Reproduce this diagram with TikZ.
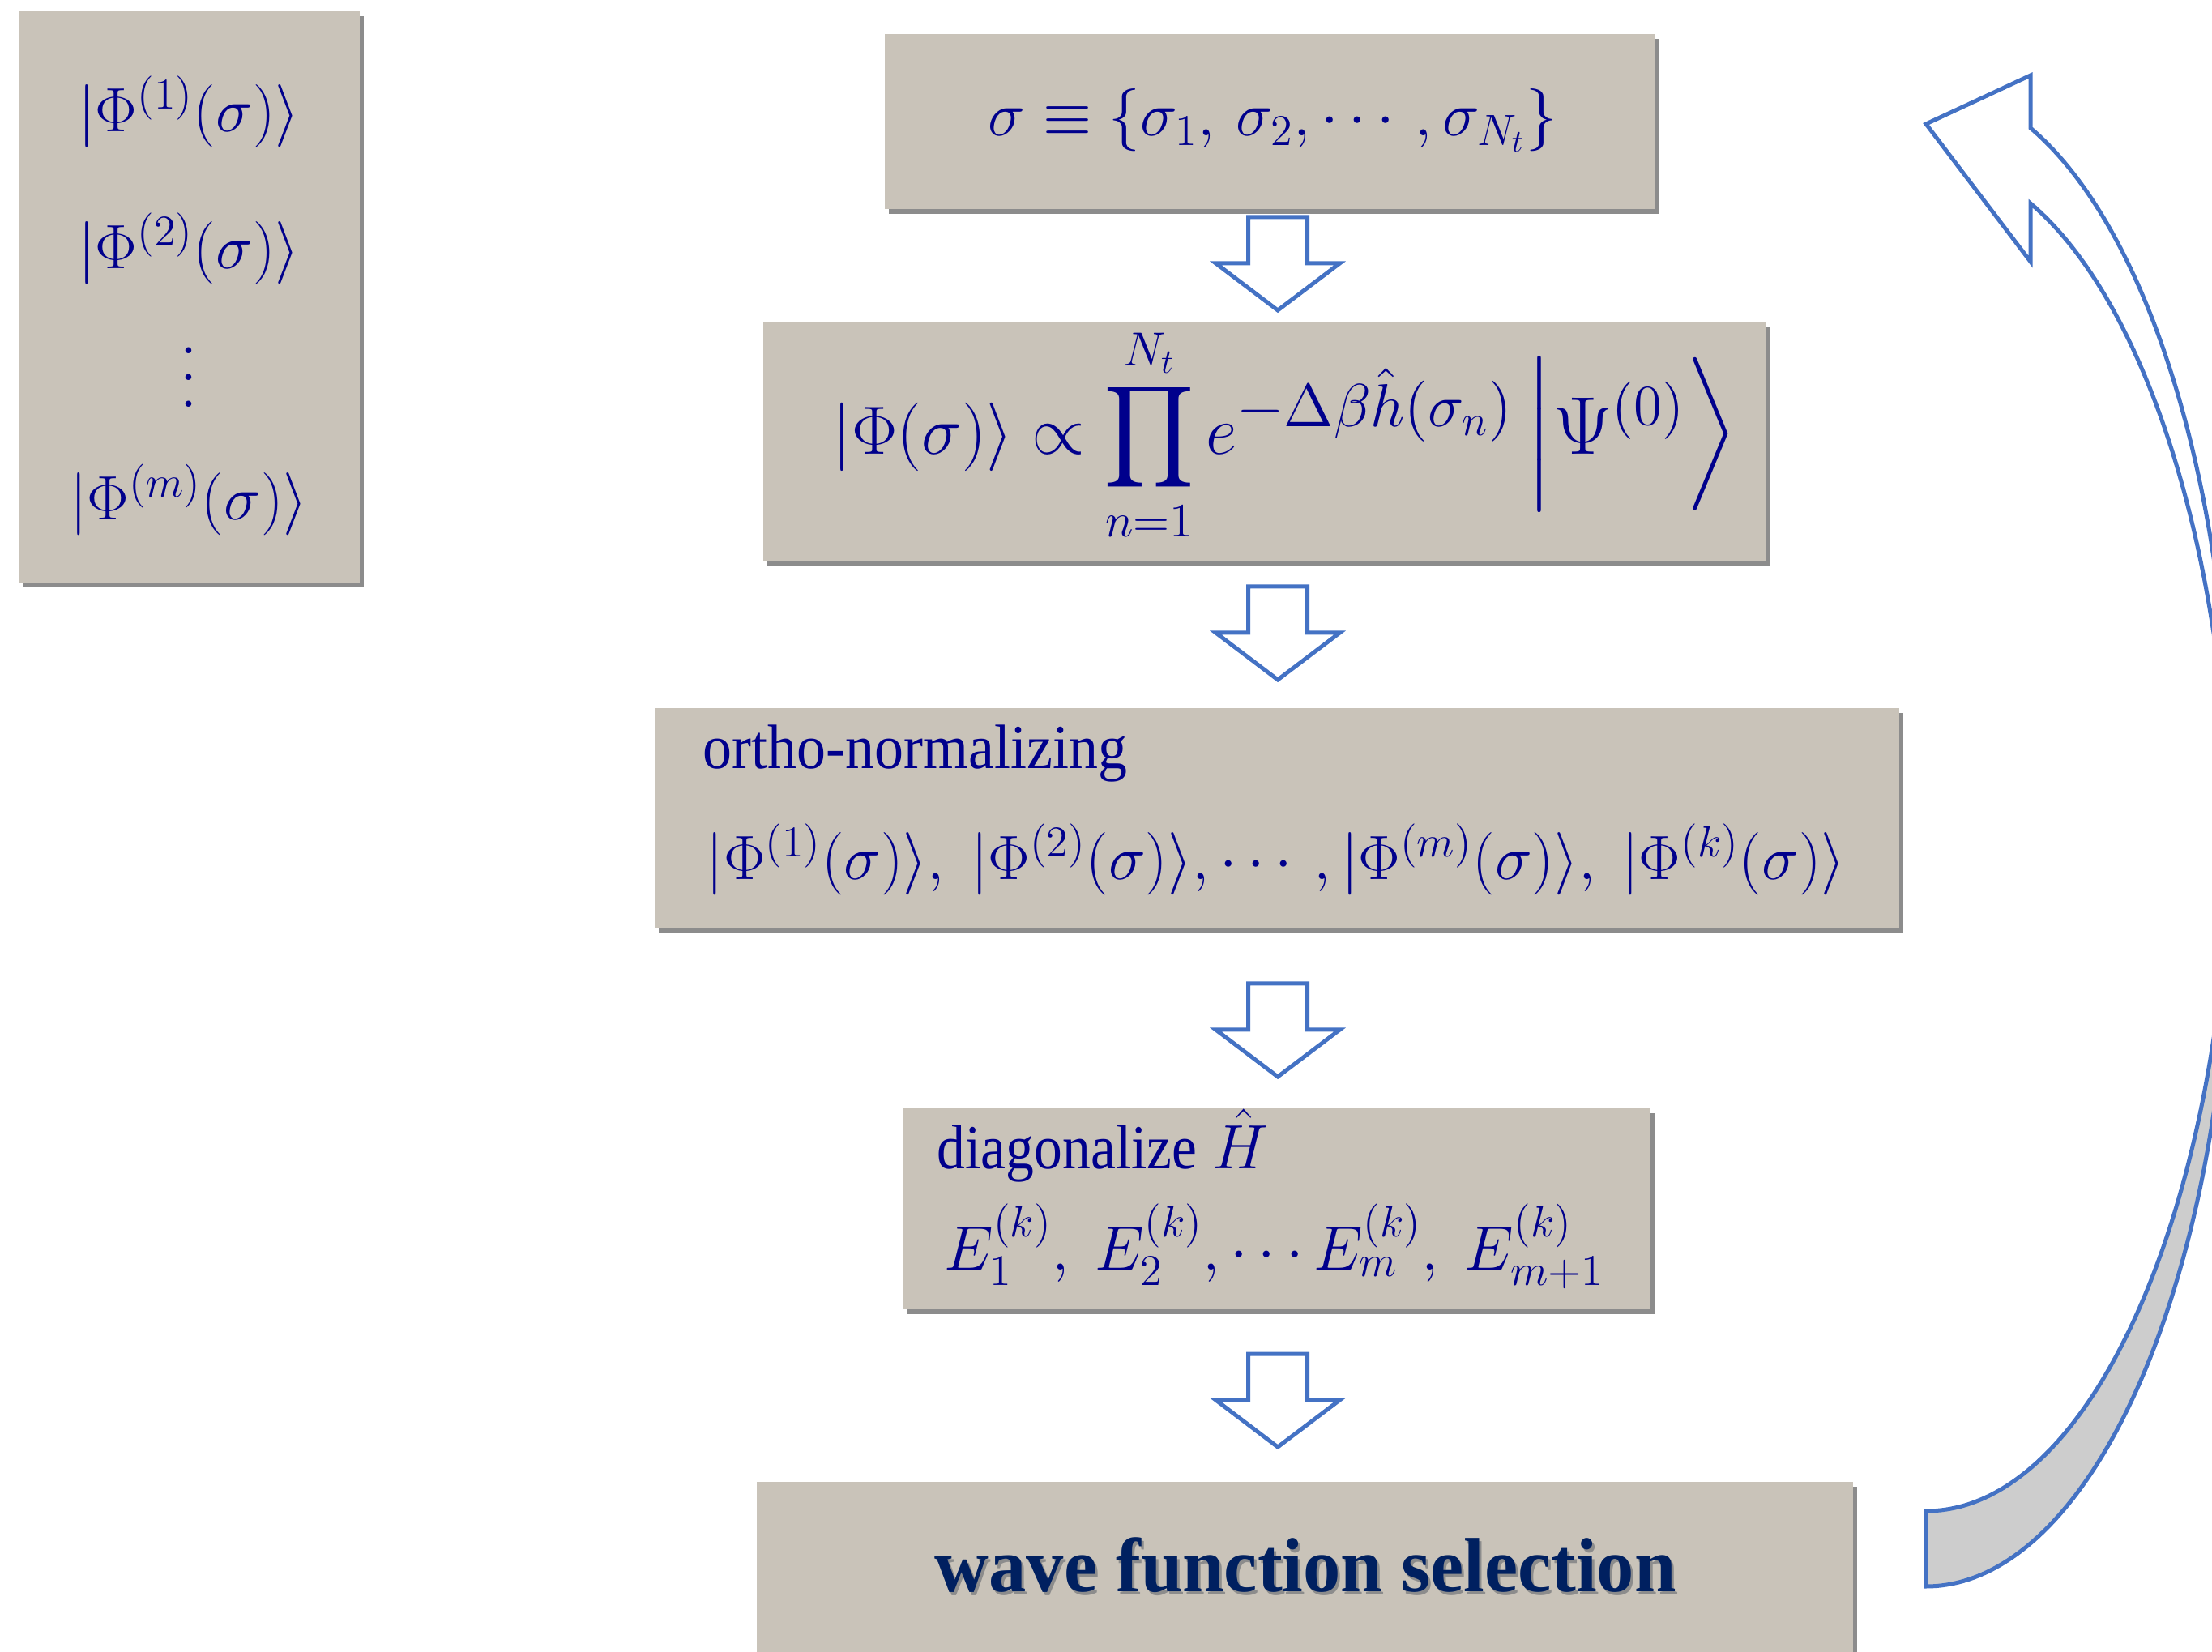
\documentclass[tikz,border=0pt]{standalone}
\usepackage{fix-cm}
\usepackage{amsmath}
\usepackage{graphicx}
\usepackage[no-math]{fontspec}
\setmainfont{Liberation Serif}
\usetikzlibrary{shadows}
\definecolor{boxfill}{RGB}{201,195,185}
\definecolor{inkblue}{RGB}{0,0,140}
\definecolor{darknavy}{RGB}{0,32,96}
\definecolor{linecol}{RGB}{68,114,196}
\definecolor{backgray}{RGB}{205,205,205}
\newcommand\spreadvdots{\vbox{\baselineskip=9.4pt\lineskiplimit=0pt\lineskip=0pt
  \hbox{$.$}\hbox{$.$}\hbox{$.$}}}
\begin{document}
\begin{tikzpicture}[
  box/.style={fill=boxfill, draw=none, inner sep=0pt,
    drop shadow={shadow xshift=0.05cm, shadow yshift=-0.06cm, fill=black, opacity=0.45}},
  mathtxt/.style={text=inkblue, font=\fontsize{22}{26}\selectfont, inner sep=0pt},
  steptxt/.style={text=inkblue, font=\fontsize{22}{26}\selectfont, inner sep=0pt},
  blockarrow/.style={draw=linecol, line width=0.05cm, fill=white, line join=miter}
]
  \useasboundingbox (0,0) rectangle (27.3,-20.39);
  \clip (0,0) rectangle (27.3,-20.39);

  % list of kets on the left
  \node[box, minimum width=4.2cm, minimum height=7.05cm] (kets) at (2.34,-3.665) {};
  \node[mathtxt, anchor=base] (ket1) at (2.33,-1.63) {$|\Phi^{(1)}(\sigma)\rangle$};
  \node[mathtxt, anchor=base] (ket2) at (2.33,-3.32) {$|\Phi^{(2)}(\sigma)\rangle$};
  \node[mathtxt] (kdots) at (2.33,-4.66) {\spreadvdots};
  \node[mathtxt, anchor=base] (ketm) at (2.33,-6.42) {$|\Phi^{(m)}(\sigma)\rangle$};

  % the steps
  \node[box, minimum width=9.5cm, minimum height=2.16cm] (fields) at (15.67,-1.5) {};
  \node[mathtxt, anchor=base west] (sigdef) at (12.19,-1.68)
    {$\sigma \equiv \{\sigma_1,\, \sigma_2, \cdots, \sigma_{N_t}\}$};

  \node[box, minimum width=12.38cm, minimum height=2.96cm] (propag) at (15.61,-5.45) {};
  \node[mathtxt, font=\fontsize{24}{28}\selectfont, anchor=base west] (propeq) at (10.27,-5.61)
    {$\displaystyle |\Phi(\sigma)\rangle \propto \prod_{n=1}^{N_t}
      e^{\scalebox{1.27}{$\scriptstyle -\Delta\beta\hat{h}(\sigma_n)$}}
      \,\scalebox{1.2}{$\Big|\Psi^{(0)}\Big\rangle$}$};

  \node[box, minimum width=15.36cm, minimum height=2.72cm] (ortho) at (15.76,-10.1) {};
  \node[steptxt, anchor=base west] (orthotxt) at (8.67,-9.49)
    {\scalebox{0.93}[1]{ortho-normalizing}};
  \node[mathtxt, anchor=base west] (orthokets) at (8.71,-10.86)
    {$|\Phi^{(1)}(\sigma)\rangle,\ |\Phi^{(2)}(\sigma)\rangle,\cdots,|\Phi^{(m)}(\sigma)\rangle,\
      |\Phi^{(k)}(\sigma)\rangle$};

  \node[box, minimum width=9.23cm, minimum height=2.48cm] (diag) at (15.755,-14.92) {};
  \node[steptxt, anchor=base west] (diagtxt) at (11.56,-14.42)
    {\scalebox{0.9}[1]{diagonalize} $\hat{H}$};
  \node[mathtxt, anchor=base west] (energies) at (11.65,-15.67)
    {$E_1^{(k)},\ E_2^{(k)},\cdots E_m^{(k)},\ E_{m+1}^{(k)}$};

  \node[box, minimum width=13.53cm, minimum height=2.8cm, anchor=north west] (select) at (9.33,-18.28) {};
  \node[text=black!45, font=\bfseries\fontsize{27}{32}\selectfont, inner sep=0pt, anchor=base west]
    (selshadow) at (11.56,-19.68) {\scalebox{0.975}[1]{wave function selection}};
  \node[text=darknavy, font=\bfseries\fontsize{27}{32}\selectfont, inner sep=0pt, anchor=base west]
    (seltxt) at (11.53,-19.64) {\scalebox{0.975}[1]{wave function selection}};

  % block arrows between the steps
  \foreach \y in {2.68,7.24,12.14,16.71}
    \draw[blockarrow] (15.77,-\y) ++(-0.365,0) -- ++(0.73,0) -- ++(0,-0.57) -- ++(0.4,0)
      -- ++(-0.765,-0.58) -- ++(-0.765,0.58) -- ++(0.4,0) -- cycle;

  % curved arrow back to the top
  \draw[blockarrow, fill=backgray] (23.77,-18.65) -- (23.77,-19.58)
    arc[start angle=-90, end angle=3.03, x radius=3.77, y radius=8.8]
    arc[start angle=-3.03, end angle=-90, x radius=3.77, y radius=8.8] -- cycle;
  \draw[blockarrow] (23.77,-1.53) -- (25.06,-0.93) -- (25.06,-1.58)
    arc[start angle=70, end angle=-3.03, x radius=3.77, y radius=8.8]
    arc[start angle=3.03, end angle=70, x radius=3.77, y radius=8.8] -- (25.06,-3.23) -- cycle;
\end{tikzpicture}
\end{document}
